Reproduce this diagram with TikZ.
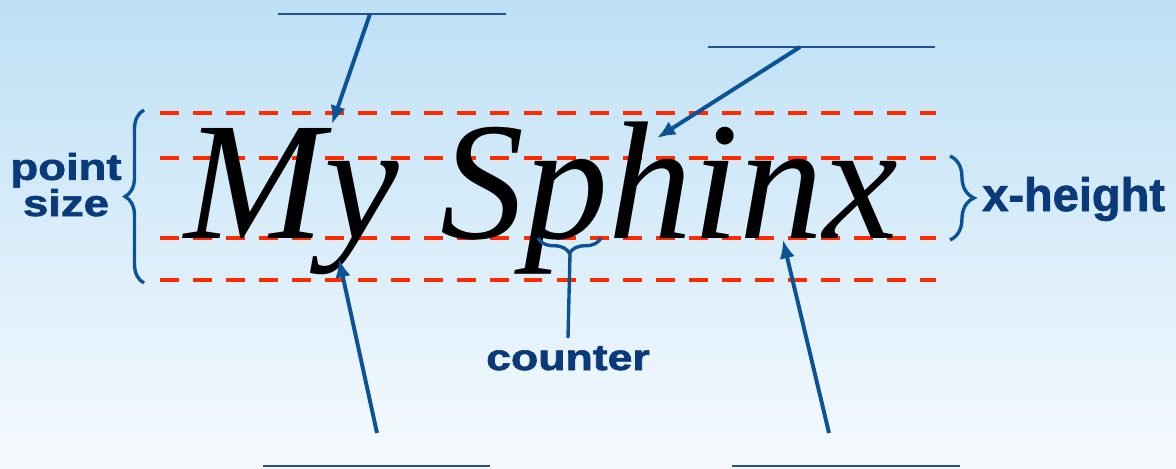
\documentclass[tikz,border=0pt]{standalone}
\usepackage{graphicx}
\usepackage{fontspec}
\setmainfont{Liberation Serif}
\setsansfont{Liberation Sans}
\newfontfamily\heavysans[FakeBold=1.6]{Liberation Sans Bold}
\usetikzlibrary{arrows.meta,decorations.pathreplacing}
\definecolor{skytop}{HTML}{BDE0F5}
\definecolor{skybot}{HTML}{F6FAFE}
\definecolor{guidered}{HTML}{FF2A00}
\definecolor{navy}{HTML}{0B3A7A}
\definecolor{markblue}{HTML}{0B5394}
\definecolor{blankblue}{HTML}{24528E}
\newcommand{\widetag}[1]{\scalebox{1.22}[1]{#1}}

\begin{document}
\begin{tikzpicture}[
  x=0.025cm, y=-0.025cm,
  guide/.style={draw=guidered, line width=2.8pt, dash pattern=on 13.5pt off 10pt},
  tag/.style={text=navy, inner sep=0pt},
  blank/.style={draw=blankblue, line width=1.4pt},
  pointer/.style={draw=markblue, line width=2.8pt, -{Latex[length=13pt,width=11pt]}},
  curly/.style={draw=markblue, line width=2.4pt, decorate,
                decoration={brace, amplitude=#1}},
]
% Background
\shade[top color=skytop, bottom color=skybot] (0,0) rectangle (1176,468);
\useasboundingbox (0,0) rectangle (1176,468);

% Guide lines
\foreach \gy in {113,158,238,280}
  \draw[guide] (160,\gy) -- (936,\gy);

% Sample text
\node[inner sep=0pt, anchor=base west,
      font=\fontsize{119.5}{120}\selectfont\itshape] (sample) at (184,238) {My Sphinx};

% Labels
\node[tag, align=center, font=\heavysans\fontsize{26.5}{23.5}\selectfont,
      anchor=base] (ptsize) at (66,216) {\widetag{point}\\\widetag{size}};
\node[tag, anchor=base west, font=\heavysans\fontsize{33.4}{36}\selectfont]
      (xheight) at (982,211) {x-height};
\node[tag, anchor=base, font=\heavysans\fontsize{26}{30}\selectfont]
      (counter) at (568,370) {\widetag{counter}};

% Braces
\draw[curly=13.5pt] (144,283) -- (144,110);
\draw[curly=17pt] (950,156) -- (950,240);
\draw[curly=11pt] (601,238) -- (538,238);
\draw[draw=markblue, line width=2.4pt] (570,254) -- (counter.north |- 0,338);

% Blanks to fill in
\coordinate (blankA) at (370,14);
\coordinate (blankB) at (800,47);
\coordinate (blankC) at (377,433);
\coordinate (blankD) at (829,433);
\draw[blank] (278,14) -- (506,14);
\draw[blank] (708,47) -- (935,47);
\draw[blank] (263,466) -- (490,466);
\draw[blank] (732,466) -- (960,466);

% Pointers
\coordinate (ascender) at (332,124);
\coordinate (ascline) at (657,138);
\coordinate (descender) at (339,259);
\coordinate (baseline) at (783,240);
\draw[pointer] (blankA) -- (ascender);
\draw[pointer] (blankB) -- (ascline);
\draw[pointer] (blankC) -- (descender);
\draw[pointer] (blankD) -- (baseline);
\end{tikzpicture}
\end{document}
